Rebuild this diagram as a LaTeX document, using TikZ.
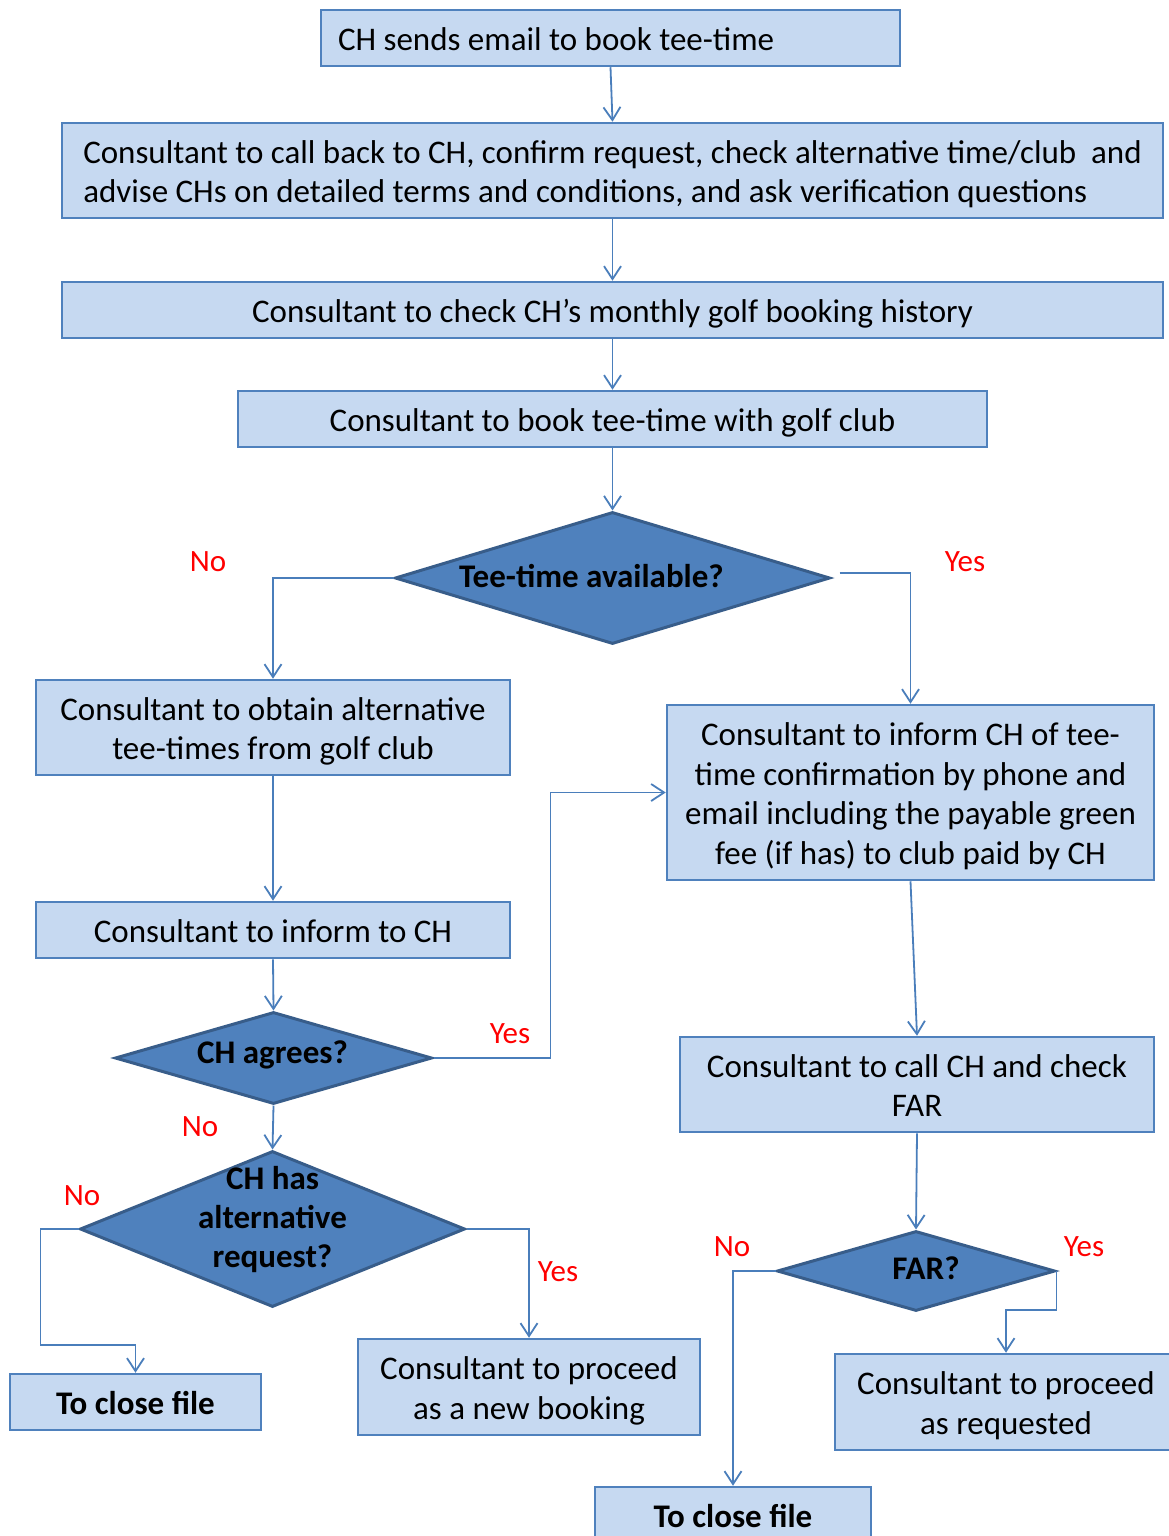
\documentclass[tikz,border=0pt]{standalone}
\usepackage{fontspec}
\setmainfont{Carlito}
\usetikzlibrary{shapes.geometric,arrows.meta}
\definecolor{boxfill}{HTML}{C6D9F1}
\definecolor{boxline}{HTML}{4F81BD}
\definecolor{diafill}{HTML}{4F81BD}
\definecolor{dialine}{HTML}{385D8A}
\definecolor{connc}{HTML}{4A7EBB}
\definecolor{labred}{HTML}{FF0000}
\newcommand\bst{\rule[-7.5pt]{0pt}{39.5pt}}
\tikzset{
  stepbox/.style={draw=boxline, fill=boxfill, line width=2.5pt, rectangle, inner sep=0pt,
    align=center, font=\fontsize{33}{39.5}\selectfont},
  dia/.style={draw=dialine, fill=diafill, line width=3pt, diamond, inner sep=0pt},
  diatext/.style={font=\fontsize{33}{39}\selectfont\bfseries, align=center, inner sep=0pt},
  conn/.style={draw=connc, line width=1.8pt, -{Straight Barb[length=13pt,width=17pt,line width=1.8pt]}},
  lab/.style={text=labred, font=\fontsize{31}{34}\selectfont, inner sep=0pt}
}
\begin{document}
\begin{tikzpicture}[x=1pt,y=-1pt]
\useasboundingbox (0,0) rectangle (1169,1536);
% boxes
\node[stepbox, minimum width=579, minimum height=56] (b1) at (610.5,38) {\bst\makebox[545pt][l]{CH sends email to book tee-time}};
\node[stepbox, minimum width=1101, minimum height=95, align=left] (b2) at (612.5,170.5) {\bst Consultant to call back to CH, confirm request, check alternative time/club\ \ and\\\bst advise CHs on detailed terms and conditions, and ask verification questions};
\node[stepbox, minimum width=1101, minimum height=56] (b3) at (612.5,310) {\bst Consultant to check CH’s monthly golf booking history};
\node[stepbox, minimum width=749, minimum height=56] (b4) at (612.5,419) {\bst Consultant to book tee-time with golf club};
\node[dia, minimum width=435, minimum height=132, label={[diatext, xshift=-21pt, yshift=2pt]center:Tee-time available?}] (d1) at (612.5,578) {};
\node[stepbox, minimum width=474, minimum height=95] (b6) at (273,727.5) {\bst Consultant to obtain alternative\\\bst tee-times from golf club};
\node[stepbox, minimum width=487, minimum height=175] (b7) at (910.5,792.5) {\bst Consultant to inform CH of tee-\\time confirmation by phone and\\email including the payable green\\\bst fee (if has) to club paid by CH};
\node[stepbox, minimum width=474, minimum height=56] (b8) at (273,930) {\bst Consultant to inform to CH};
\node[dia, minimum width=317, minimum height=92, label={[diatext, xshift=-1pt, yshift=3pt]center:CH agrees?}] (d2) at (273.5,1058) {};
\node[dia, minimum width=385, minimum height=156, label={[diatext, yshift=9pt]center:CH has\\alternative\\request?}] (d3) at (272.5,1229) {};
\node[stepbox, minimum width=251, minimum height=56, font=\fontsize{33}{39.5}\selectfont\bfseries] (b11) at (135.5,1402) {\bst To close file};
\node[stepbox, minimum width=342, minimum height=96] (b12) at (529,1387) {\bst Consultant to proceed\\\bst as a new booking};
\node[stepbox, minimum width=474, minimum height=95] (b13) at (917,1084.5) {\bst Consultant to call CH and check\\\bst FAR};
\node[dia, minimum width=278, minimum height=80, label={[diatext, xshift=10pt, yshift=3pt]center:FAR?}] (d4) at (916,1271) {};
\node[stepbox, minimum width=342, minimum height=96] (b15) at (1006,1402) {\bst Consultant to proceed\\\bst as requested};
\node[stepbox, minimum width=276, minimum height=56, font=\fontsize{33}{39.5}\selectfont\bfseries] (b16) at (733,1515) {\bst To close file};
% connectors
\draw[conn] (b1.south) -- (b2.north);
\draw[conn] (b2.south) -- (b3.north);
\draw[conn] (b3.south) -- (b4.north);
\draw[conn] (b4.south) -- (d1.north);
\draw[conn] (d1.west) -| (b6.north);
\draw[conn] ([shift={(8,-5)}]d1.east) -| (b7.north);
\draw[conn] (b6.south) -- (b8.north);
\draw[conn] (b8.south) -- (d2.north);
\draw[conn] (d2.east) -- ++(117,0) |- (b7.west);
\draw[conn] (d2.south) -- (d3.north);
\draw[conn] (d3.west) -- ++(-38,0) -- ++(0,116) -| (b11.north);
\draw[conn] (d3.east) -| (b12.north);
\draw[conn] (b7.south) -- (b13.north);
\draw[conn] (b13.south) -- (d4.north);
\draw[conn] (d4.west) -| (b16.north);
\draw[conn] (d4.east) -- ++(0,39) -| (b15.north);
% labels
\node[lab] (l1) at (208,562) {No};
\node[lab] (l2) at (965,562) {Yes};
\node[lab] (l3) at (510,1034) {Yes};
\node[lab] (l4) at (200,1127) {No};
\node[lab] (l5) at (82,1196) {No};
\node[lab] (l6) at (558,1272) {Yes};
\node[lab] (l7) at (732,1247) {No};
\node[lab] (l8) at (1084,1247) {Yes};
\end{tikzpicture}
\end{document}
